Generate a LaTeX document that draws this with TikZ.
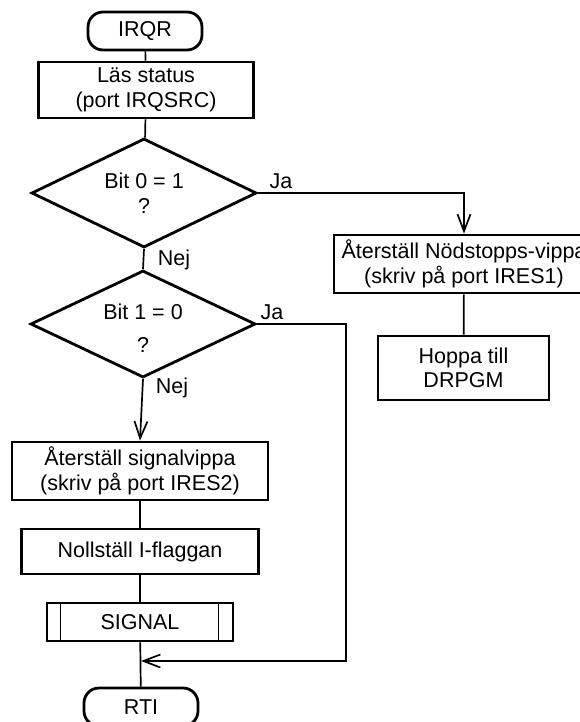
\documentclass[tikz,border=0pt]{standalone}
\usepackage{fontspec}
\setmainfont{Liberation Sans}
\usetikzlibrary{arrows.meta,shapes.geometric,positioning}

\tikzset{
    base/.style={draw, line width=2.8pt, align=center, inner sep=3pt,
        font=\fontsize{21.5}{25.5}\selectfont},
    term/.style={base, rectangle, rounded corners=15pt, minimum width=114pt, minimum height=38pt},
    proc/.style={base, rectangle},
    decis/.style={base, diamond, aspect=2, inner sep=1pt},
    subr/.style={base, rectangle, minimum width=186pt, minimum height=38pt},
    lbl/.style={font=\fontsize{21.5}{25.5}\selectfont, inner sep=0pt},
    conn/.style={line width=1.7pt},
    flow/.style={conn, -{Straight Barb[length=17pt,width=13pt,line width=1.7pt]}}
}

\begin{document}
\begin{tikzpicture}[x=1pt,y=-1pt]
    \useasboundingbox (0,0) rectangle (580,722);
    % Main column
    \node[term] (irqr) at (145,31) {IRQR};
    \node[proc, minimum width=215pt, minimum height=56pt] (las) at (146,90) {Läs status\\(port IRQSRC)};
    \node[decis, minimum width=225pt, minimum height=109pt] (d1) at (144,193) {Bit 0 = 1\\?};
    \node[decis, minimum width=225pt, minimum height=107pt] (d2) at (143,324)
        {\raisebox{-7pt}[\height][\depth]{\begin{tabular}{@{}c@{}}Bit 1 = 0\\[8pt]?\end{tabular}}};
    \node[proc, minimum width=256pt, minimum height=58pt] (sig) at (140,471) {Återställ signalvippa\\(skriv på port IRES2)};
    \node[proc, minimum width=237pt, minimum height=45pt] (nol) at (140,551.5) {Nollställ I-flaggan};
    \node[subr] (sub) at (140,622) {SIGNAL};
    \draw[conn] ([xshift=15pt]sub.north west) -- ([xshift=15pt]sub.south west);
    \draw[conn] ([xshift=-16pt]sub.north east) -- ([xshift=-16pt]sub.south east);
    \node[term, minimum height=38pt] (rti) at (141,707) {RTI};
    \coordinate (mrg) at (141,661);
    % Right branch
    \node[proc, minimum width=260pt, minimum height=58pt] (nod) at (464,264) {Återställ Nödstopps-vippa\\(skriv på port IRES1)};
    \node[proc, minimum width=171pt, minimum height=64pt, font=\fontsize{21.5}{24}\selectfont] (hop) at (463.5,368) {Hoppa till\\DRPGM};
    % Connectors
    \draw[conn] (irqr) -- (las);
    \draw[conn] (las) -- (d1);
    \draw[conn] (d1.south) -- (d2.north);
    \draw[flow] (d2.south) -- (sig.north);
    \draw[conn] (sig) -- (nol);
    \draw[conn] (nol) -- (sub);
    \draw[conn] (sub) -- (rti);
    \draw[flow] (d1.east) -| (nod.north);
    \draw[conn] (nod) -- (hop);
    \draw[flow] (d2.east) -- ++(89,0) |- (mrg);
    % Labels
    \node[lbl] (ja1) at (281,181) {Ja};
    \node[lbl] (nej1) at (174,260) {Nej};
    \node[lbl] (ja2) at (272,312) {Ja};
    \node[lbl] (nej2) at (172,388) {Nej};
\end{tikzpicture}
\end{document}
